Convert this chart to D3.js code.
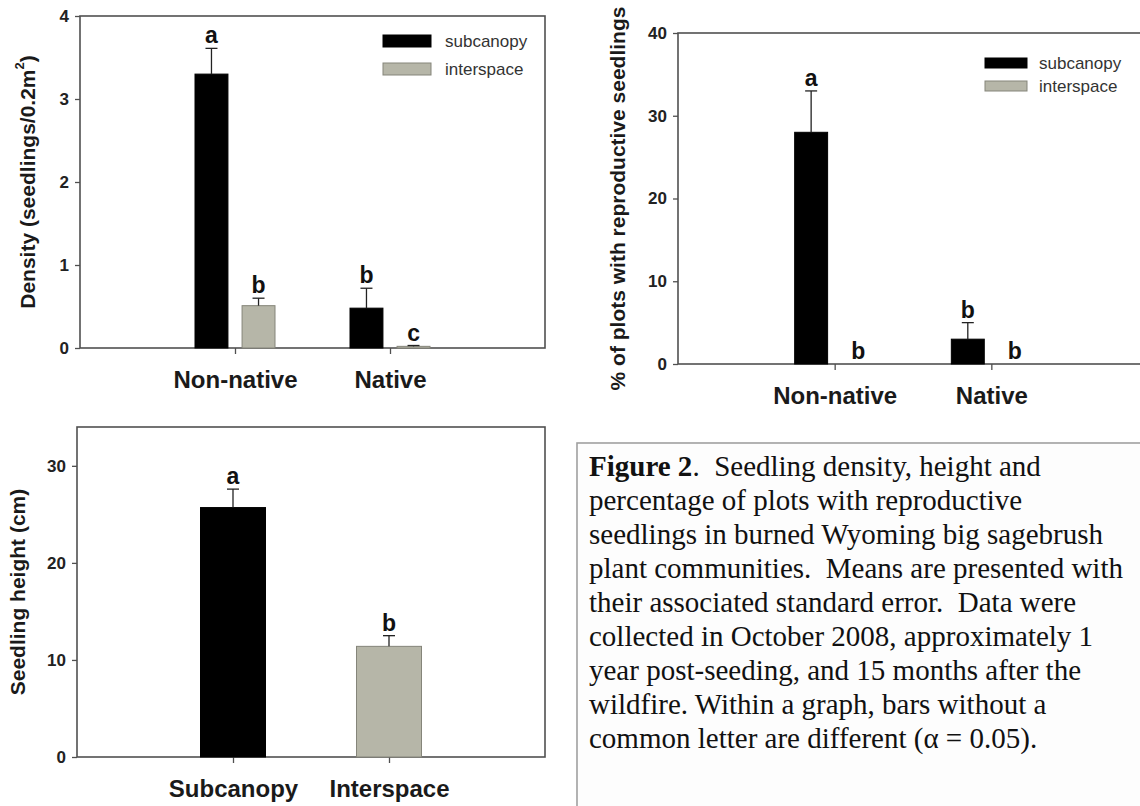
<!DOCTYPE html>
<html>
<head>
<meta charset="utf-8">
<script src="https://cdn.jsdelivr.net/npm/d3@7"></script>
<style>
  body { margin: 0; background: #fff; }
  svg { display: block; }
  text { font-family: "Liberation Sans", Arial, sans-serif; }
  text.caption { font-family: "Liberation Serif", "Times New Roman", serif; white-space: pre; }
</style>
</head>
<body>
<svg id="fig" width="1140" height="806"></svg>
<script>
// ---- data ----
const groups = ["Non-native", "Native"];
const seriesNames = ["subcanopy", "interspace"];

const densitySub = [3.30, 0.48];
const densitySubSE = [0.31, 0.24];
const densityInt = [0.51, 0.02];
const densityIntSE = [0.09, 0.01];
const densitySubLetters = ["a", "b"];
const densityIntLetters = ["b", "c"];
const densityTicks = [0, 1, 2, 3, 4];

const reproSub = [28, 3];
const reproSubSE = [5, 2];
const reproInt = [0, 0];
const reproIntSE = [0, 0];
const reproSubLetters = ["a", "b"];
const reproIntLetters = ["b", "b"];
const reproTicks = [0, 10, 20, 30, 40];

const heightCats = ["Subcanopy", "Interspace"];
const heightMean = [25.7, 11.4];
const heightSE = [1.9, 1.1];
const heightLetters = ["a", "b"];
const heightTicks = [0, 10, 20, 30];

const captionLead = "Figure 2";
const captionLines = [
  ".  Seedling density, height and",
  "percentage of plots with reproductive",
  "seedlings in burned Wyoming big sagebrush",
  "plant communities.  Means are presented with",
  "their associated standard error.  Data were",
  "collected in October 2008, approximately 1",
  "year post-seeding, and 15 months after the",
  "wildfire. Within a graph, bars without a",
  "common letter are different (\u03b1 = 0.05)."
];

// ---- styles ----
const BLACK = "#000000";
const GREY = "#b6b6a8";
const GREY_EDGE = "#85857a";
const FRAME = "#505050";
const svg = d3.select("#fig");

function panel(cfg) {
  const g = svg.append("g");
  const x = d3.scalePoint().domain(cfg.cats).range([cfg.left, cfg.right]).padding(1);
  const y = d3.scaleLinear().domain([0, cfg.yMax]).range([cfg.bottom, cfg.top]);

  // frame
  g.append("rect")
    .attr("x", cfg.left).attr("y", cfg.top)
    .attr("width", cfg.frameRight - cfg.left).attr("height", cfg.bottom - cfg.top)
    .attr("fill", "none").attr("stroke", FRAME).attr("stroke-width", 1.6);

  // y axis
  const ya = g.append("g").attr("transform", `translate(${cfg.left},0)`)
    .call(d3.axisLeft(y).tickValues(cfg.ticks).tickSize(5).tickPadding(6).tickFormat(d3.format("d")));
  ya.select(".domain").remove();
  ya.selectAll(".tick line").attr("stroke", FRAME).attr("stroke-width", 1.3);
  ya.selectAll(".tick text").attr("font-size", 17).attr("font-weight", "bold").attr("fill", "#222");

  // x axis
  const xa = g.append("g").attr("transform", `translate(0,${cfg.bottom})`)
    .call(d3.axisBottom(x).tickSize(6).tickPadding(17));
  xa.select(".domain").remove();
  xa.selectAll(".tick line").attr("stroke", FRAME).attr("stroke-width", 1.3);
  xa.selectAll(".tick text").attr("font-size", 24).attr("font-weight", "bold").attr("fill", "#1a1a1a");

  // bars
  const inner = d3.scaleBand().domain(cfg.series.map((s, i) => i))
    .range([-cfg.groupHalf, cfg.groupHalf]).paddingInner(cfg.paddingInner);
  cfg.series.forEach((s, si) => {
    const rows = cfg.cats.map((c, ci) => ({
      c, v: s.values[ci], se: s.se[ci], letter: s.letters[ci],
      fill: Array.isArray(s.color) ? s.color[ci] : s.color,
      edge: Array.isArray(s.edge) ? s.edge[ci] : s.edge
    }));
    const bx = d => x(d.c) + inner(si);
    const bw = inner.bandwidth();
    g.append("g").selectAll("rect").data(rows.filter(d => d.v > 0)).join("rect")
      .attr("x", bx).attr("width", bw)
      .attr("y", d => y(d.v)).attr("height", d => y(0) - y(d.v))
      .attr("fill", d => d.fill).attr("stroke", d => d.edge).attr("stroke-width", 1);
    const eb = g.append("g").selectAll("g").data(rows.filter(d => d.se > 0)).join("g");
    eb.append("line")
      .attr("x1", d => bx(d) + bw / 2).attr("x2", d => bx(d) + bw / 2)
      .attr("y1", d => y(d.v)).attr("y2", d => y(d.v + d.se))
      .attr("stroke", "#222").attr("stroke-width", 1.3);
    eb.append("line")
      .attr("x1", d => bx(d) + bw / 2 - 6).attr("x2", d => bx(d) + bw / 2 + 6)
      .attr("y1", d => y(d.v + d.se)).attr("y2", d => y(d.v + d.se))
      .attr("stroke", "#222").attr("stroke-width", 1.3);
    g.append("g").selectAll("text").data(rows).join("text")
      .attr("x", d => bx(d) + bw / 2).attr("y", d => y(d.v + d.se) - 5)
      .attr("text-anchor", "middle").attr("font-size", 23).attr("font-weight", "bold")
      .attr("fill", "#111").text(d => d.letter);
  });

  // y label
  const yl = g.append("text")
    .attr("transform", `translate(${cfg.yLabelX},${(cfg.top + cfg.bottom) / 2}) rotate(-90)`)
    .attr("text-anchor", "middle").attr("dominant-baseline", "central")
    .attr("font-size", 21).attr("font-weight", "bold").attr("fill", "#1a1a1a");
  cfg.yLabel.forEach(part => {
    const t = yl.append("tspan").text(part.t);
    if (part.sup) t.attr("font-size", 13).attr("baseline-shift", "super");
  });

  // legend
  if (cfg.legend) {
    const L = cfg.legend;
    cfg.series.forEach((s, i) => {
      g.append("rect")
        .attr("x", L.x).attr("y", L.y + i * L.step).attr("width", L.w).attr("height", L.h)
        .attr("fill", s.color).attr("stroke", s.edge).attr("stroke-width", 1);
      g.append("text")
        .attr("x", L.x + L.w + L.gap).attr("y", L.y + i * L.step + L.h / 2)
        .attr("dominant-baseline", "central")
        .attr("font-size", 17).attr("fill", "#333").text(seriesNames[i]);
    });
  }
}

// Density panel
panel({
  left: 80, right: 545, frameRight: 545, top: 16, bottom: 348,
  yMax: 4, ticks: densityTicks, cats: groups,
  groupHalf: 40, paddingInner: 0.3,
  series: [
    { values: densitySub, se: densitySubSE, letters: densitySubLetters, color: BLACK, edge: BLACK },
    { values: densityInt, se: densityIntSE, letters: densityIntLetters, color: GREY, edge: GREY_EDGE }
  ],
  yLabelX: 27,
  yLabel: [{ t: "Density (seedlings/0.2m" }, { t: "2", sup: true }, { t: ")" }],
  legend: { x: 383, y: 35, w: 48, h: 12, step: 28, gap: 14 }
});

// Reproductive seedlings panel
panel({
  left: 678, right: 1148, frameRight: 1152, top: 33, bottom: 364,
  yMax: 40, ticks: reproTicks, cats: groups,
  groupHalf: 40, paddingInner: 0.3,
  series: [
    { values: reproSub, se: reproSubSE, letters: reproSubLetters, color: BLACK, edge: BLACK },
    { values: reproInt, se: reproIntSE, letters: reproIntLetters, color: GREY, edge: GREY_EDGE }
  ],
  yLabelX: 617,
  yLabel: [{ t: "% of plots with reproductive seedlings" }],
  legend: { x: 985, y: 58, w: 42, h: 10, step: 23, gap: 12 }
});

// Height panel: one bar per position, black for subcanopy and grey for interspace
panel({
  left: 77, right: 545, frameRight: 545, top: 427, bottom: 757,
  yMax: 34, ticks: heightTicks, cats: heightCats,
  groupHalf: 32.5, paddingInner: 0,
  series: [
    { values: heightMean, se: heightSE, letters: heightLetters,
      color: [BLACK, GREY], edge: [BLACK, GREY_EDGE] }
  ],
  yLabelX: 17,
  yLabel: [{ t: "Seedling height (cm)" }],
  legend: null
});

// Caption box
const cap = svg.append("g");
cap.append("rect")
  .attr("x", 577).attr("y", 443).attr("width", 600).attr("height", 372)
  .attr("fill", "#fdfdfd").attr("stroke", "#a0a0a0").attr("stroke-width", 1.6);
const capText = cap.append("text").attr("class", "caption")
  .attr("font-size", 29).attr("fill", "#111");
captionLines.forEach((line, i) => {
  const t = capText.append("tspan").attr("x", 589).attr("y", 476 + i * 34);
  if (i === 0) {
    t.append("tspan").attr("font-weight", "bold").text(captionLead);
    t.append("tspan").text(line);
  } else {
    t.text(line);
  }
});
</script>
</body>
</html>
